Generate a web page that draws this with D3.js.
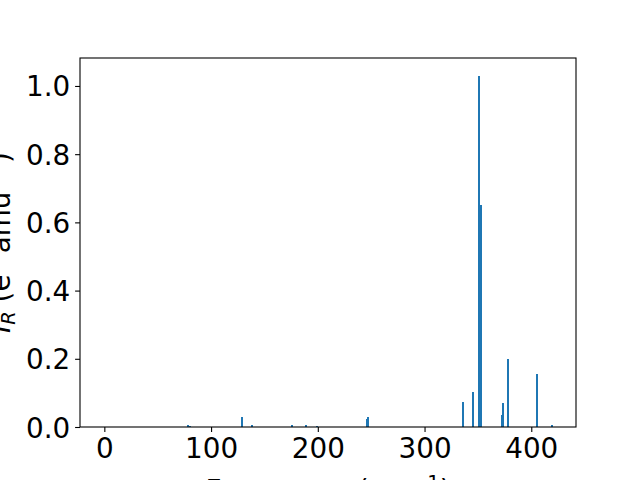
<!DOCTYPE html>
<html>
<head>
<meta charset="utf-8">
<script src="https://cdn.jsdelivr.net/npm/d3@7/dist/d3.min.js"></script>
<style>
  html, body { margin: 0; padding: 0; background: #fff; }
  svg { display: block; font-family: "DejaVu Sans", sans-serif; }
</style>
</head>
<body>
<svg id="chart" width="640" height="480"></svg>
<script>
// Data
const frequencies = [78.4, 80.3, 129.0, 138.4, 175.8, 188.8, 199.3, 246.1, 247.0,
                     335.9, 345.3, 351.0, 352.9, 372.1, 373.5, 378.2, 405.3, 419.3];
const intensities = [0.006, 0.003, 0.029, 0.006, 0.006, 0.006, 0.003, 0.023, 0.029,
                     0.073, 0.103, 1.03, 0.65, 0.035, 0.070, 0.199, 0.155, 0.006];
const xTicks = [0, 100, 200, 300, 400];
const yTicks = [0.0, 0.2, 0.4, 0.6, 0.8, 1.0];
const barWidth = 1.8;

(function () {
const svg = d3.select("#chart");
const mL = 80, mR = 576, mT = 58, mB = 427;

const x = d3.scaleLinear().domain([-22.8, 441.9]).range([mL, mR]);
const y = d3.scaleLinear().domain([0, 1.082]).range([mB, mT]);

const data = frequencies.map((f, i) => ({ f, v: intensities[i] }));

// bars snapped to whole pixels (like the reference renderer)
svg.append("g").selectAll("rect").data(data).enter().append("rect")
  .attr("x", d => Math.round(x(d.f - barWidth / 2)))
  .attr("width", d => Math.max(2, Math.round(x(d.f + barWidth / 2) - x(d.f - barWidth / 2))))
  .attr("y", d => Math.round(y(d.v)))
  .attr("height", d => Math.round(y(0)) - Math.round(y(d.v)))
  .attr("fill", "#1f77b4")
  .attr("shape-rendering", "crispEdges");

const fontSize = 27.8;

const xAxis = d3.axisBottom(x).tickValues(xTicks).tickSize(4.9).tickPadding(4.9)
  .tickFormat(d3.format("d"));
const gx = svg.append("g").attr("transform", `translate(0,${mB})`).call(xAxis);
gx.select(".domain").remove();
gx.selectAll("line").attr("stroke", "#000").attr("stroke-width", 1.1);
gx.selectAll("text").attr("font-size", fontSize).attr("font-family", "DejaVu Sans")
  .attr("fill", "#000").attr("dy", "0.78em");

const yAxis = d3.axisLeft(y).tickValues(yTicks).tickSize(4.9).tickPadding(4.9)
  .tickFormat(d3.format(".1f"));
const gy = svg.append("g").attr("transform", `translate(${mL},0)`).call(yAxis);
gy.select(".domain").remove();
gy.selectAll("line").attr("stroke", "#000").attr("stroke-width", 1.1);
gy.selectAll("text").attr("font-size", fontSize).attr("font-family", "DejaVu Sans")
  .attr("fill", "#000").attr("dy", "0.36em");

// Frame
svg.append("rect").attr("x", mL).attr("y", mT)
  .attr("width", mR - mL).attr("height", mB - mT)
  .attr("fill", "none").attr("stroke", "#000").attr("stroke-width", 1.1);

// X label
const xl = svg.append("text").attr("x", (mL + mR) / 2).attr("y", 500)
  .attr("text-anchor", "middle").attr("font-size", fontSize).attr("fill", "#000");
xl.append("tspan").text("Frequency (cm");
xl.append("tspan").attr("font-size", fontSize * 0.7).attr("dy", -11).text("−1");
xl.append("tspan").attr("dy", 11).text(")");

// Y label
const yl = svg.append("text")
  .attr("transform", `translate(10,${(mT + mB) / 2}) rotate(-90)`)
  .attr("text-anchor", "middle").attr("font-size", fontSize).attr("fill", "#000");
yl.append("tspan").attr("font-style", "italic").text("I");
yl.append("tspan").attr("font-style", "italic").attr("font-size", fontSize * 0.7).attr("dy", 5).text("R");
yl.append("tspan").attr("dy", -5).text(" (e");
yl.append("tspan").attr("font-size", fontSize * 0.7).attr("dy", -11).text("2");
yl.append("tspan").attr("dy", 11).text(" amu");
yl.append("tspan").attr("font-size", fontSize * 0.7).attr("dy", -11).text("−1");
yl.append("tspan").attr("dy", 11).text(")");
})();
</script>
</body>
</html>
